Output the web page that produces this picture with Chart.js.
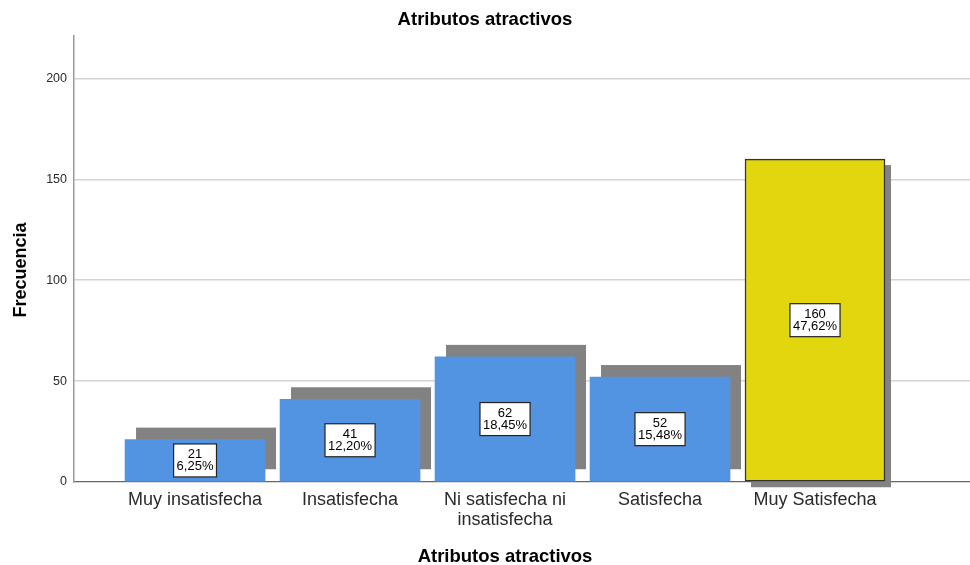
<!DOCTYPE html>
<html>
<head>
<meta charset="utf-8">
<script src="https://cdn.jsdelivr.net/npm/chart.js@4.4.0/dist/chart.umd.min.js"></script>
<style>
    html, body { margin: 0; padding: 0; background: #fff; }
    #wrap { width: 970px; height: 565px; }
</style>
</head>
<body>
<div id="wrap"><canvas id="chart" width="970" height="565"></canvas></div>
<script>
// ==================== Datos ====================
const categorias = ['Muy insatisfecha', 'Insatisfecha', ['Ni satisfecha ni', 'insatisfecha'], 'Satisfecha', 'Muy Satisfecha'];
const frecuencias = [21, 41, 62, 52, 160];
const porcentajes = ['6,25%', '12,20%', '18,45%', '15,48%', '47,62%'];
const ticksY = [0, 50, 100, 150, 200];

// estilos por barra
const coloresBarra = ['#5294e2', '#5294e2', '#5294e2', '#5294e2', '#e2d70e'];
const bordesBarra = [0, 0, 0, 0, 1.5];
const sombras = [[11, -12], [11, -12], [11, -12], [11, -12], [6, 6]];

const FONT = "'Liberation Sans', Arial, sans-serif";

// sombra gris detrás de cada barra
const sombraPlugin = {
    id: 'sombra',
    beforeDatasetsDraw(chart) {
        const ctx = chart.ctx;
        const meta = chart.getDatasetMeta(0);
        ctx.save();
        ctx.fillStyle = '#828282';
        meta.data.forEach((bar, i) => {
            const [dx, dy] = sombras[i];
            const w = bar.width;
            ctx.fillRect(bar.x - w / 2 + dx, bar.y + dy, w, bar.base - bar.y);
        });
        ctx.restore();
    }
};

// etiquetas con recuento y porcentaje
const etiquetasPlugin = {
    id: 'etiquetas',
    afterDatasetsDraw(chart) {
        const ctx = chart.ctx;
        const meta = chart.getDatasetMeta(0);
        ctx.save();
        ctx.font = '13px ' + FONT;
        ctx.textAlign = 'center';
        ctx.textBaseline = 'middle';
        meta.data.forEach((bar, i) => {
            const l1 = String(frecuencias[i]);
            const l2 = porcentajes[i];
            const w = Math.max(ctx.measureText(l1).width, ctx.measureText(l2).width) + 6;
            const h = 33;
            const cx = bar.x;
            const cy = (bar.y + bar.base) / 2;
            ctx.fillStyle = '#fff';
            ctx.fillRect(cx - w / 2, cy - h / 2, w, h);
            ctx.strokeStyle = '#222';
            ctx.lineWidth = 1.2;
            ctx.strokeRect(cx - w / 2, cy - h / 2, w, h);
            ctx.fillStyle = '#000';
            ctx.fillText(l1, cx, cy - 6);
            ctx.fillText(l2, cx, cy + 6);
        });
        ctx.restore();
    }
};

// títulos de los ejes
const titulosPlugin = {
    id: 'titulos',
    afterDraw(chart) {
        const ctx = chart.ctx;
        const area = chart.chartArea;
        ctx.save();
        ctx.font = 'bold 18.5px ' + FONT;
        ctx.fillStyle = '#000';
        ctx.textAlign = 'center';
        ctx.textBaseline = 'middle';
        ctx.fillText('Atributos atractivos', chart.scales.x.getPixelForValue(2), 557);
        ctx.font = 'bold 18px ' + FONT;
        ctx.translate(21, (area.top + area.bottom) / 2 + 11);
        ctx.rotate(-Math.PI / 2);
        ctx.fillText('Frecuencia', 0, 0);
        ctx.restore();
    }
};

new Chart(document.getElementById('chart'), {
    type: 'bar',
    data: {
        datasets: [{
            label: 'Frecuencia',
            data: frecuencias.map((v, i) => ({ x: i, y: v })),
            backgroundColor: coloresBarra,
            borderColor: '#333',
            borderWidth: bordesBarra,
            borderSkipped: false,
            barThickness: 140
        }]
    },
    options: {
        responsive: false,
        animation: false,
        layout: { padding: { left: 0, right: 0, top: 0, bottom: 0 } },
        scales: {
            x: {
                type: 'linear',
                offset: false,
                min: -0.781,
                max: 5.0,
                afterFit: s => { s.height = 83; },
                afterBuildTicks: s => { s.ticks = categorias.map((_, i) => ({ value: i })); },
                grid: { display: false, drawTicks: false, offset: false },
                border: { display: true, color: '#666', width: 1.2 },
                ticks: {
                    autoSkip: false,
                    maxRotation: 0,
                    padding: 8,
                    color: '#2a2a2a',
                    font: { size: 18, family: FONT, lineHeight: 1.1 },
                    callback: v => categorias[v]
                }
            },
            y: {
                min: 0,
                max: 221,
                afterFit: s => { s.width = 74; },
                afterBuildTicks: s => { s.ticks = ticksY.map(v => ({ value: v })); },
                grid: {
                    drawTicks: false,
                    color: c => c.tick.value === 0 ? 'rgba(0,0,0,0)' : '#d4d4d4',
                    lineWidth: 1.5
                },
                border: { display: true, color: '#999', width: 1.5 },
                ticks: {
                    padding: 7,
                    color: '#2a2a2a',
                    font: { size: 12.5, family: FONT }
                }
            }
        },
        plugins: {
            legend: { display: false },
            tooltip: { enabled: false },
            title: {
                display: true,
                text: 'Atributos atractivos',
                color: '#000',
                font: { size: 18.5, weight: 'bold', family: FONT, lineHeight: 1.1 },
                padding: { top: 10, bottom: 5.65 }
            }
        }
    },
    plugins: [sombraPlugin, etiquetasPlugin, titulosPlugin]
});
</script>
</body>
</html>
